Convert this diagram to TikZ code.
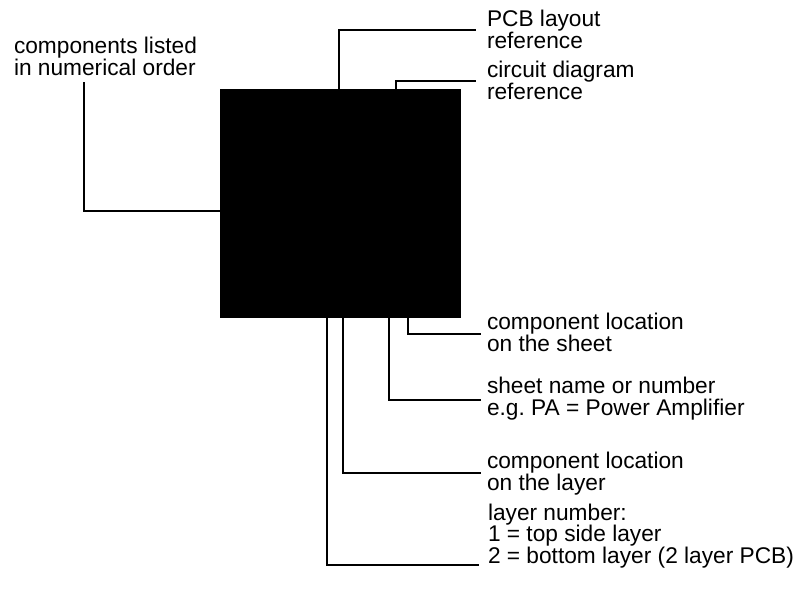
\documentclass[tikz,border=0pt]{standalone}
\usepackage{fontspec}
\setmainfont{Liberation Sans}
\usetikzlibrary{calc}

\begin{document}
\begin{tikzpicture}[x=1pt,y=-1pt,line width=2pt,
        note/.style={anchor=base west,inner sep=0pt,align=left,
                font=\fontsize{22.7}{21.5}\selectfont},
        lead/.style={draw,line cap=rect}]

        \useasboundingbox (0,0) rectangle (802,589);

        % base anchor sits on the last line
        \path   (340.5,203.5) node (chip) [fill=black,inner sep=0pt,minimum width=241pt,minimum height=229pt] {}
                (13,75) node (order) [note] {components listed\\in numerical order}
                (486,48) node (pcb) [note] {PCB layout\\reference}
                (486,99) node (circ) [note] {circuit diagram\\reference}
                (486,351) node (loc) [note] {component location\\on the sheet}
                (486,415) node (sheet) [note] {sheet name or number\\e.g.\ PA = Power Amplifier}
                (486,490) node (place) [note] {component location\\on the layer}
                (487,563) node (layer) [note] {layer number:\\1 = top side layer\\2 = bottom layer (2 layer PCB)};

        \coordinate (orderend) at (84,83);
        \coordinate (pcbend) at (475,30);
        \coordinate (circend) at (475,81);
        \coordinate (locend) at (480,334);
        \coordinate (sheetend) at (480,400);
        \coordinate (placeend) at (480,473);
        \coordinate (layerend) at (478,565);

        \draw[lead] ($(chip.west)+(0,7.5)$) -| (orderend);
        \draw[lead] ($(chip.north)+(-1.5,0)$) |- (pcbend);
        \draw[lead] ($(chip.north)+(55.5,0)$) |- (circend);
        \draw[lead] ($(chip.south)+(67.5,0)$) |- (locend);
        \draw[lead] ($(chip.south)+(48.5,0)$) |- (sheetend);
        \draw[lead] ($(chip.south)+(2.5,0)$) |- (placeend);
        \draw[lead] ($(chip.south)+(-13.5,0)$) |- (layerend);

\end{tikzpicture}
\end{document}
